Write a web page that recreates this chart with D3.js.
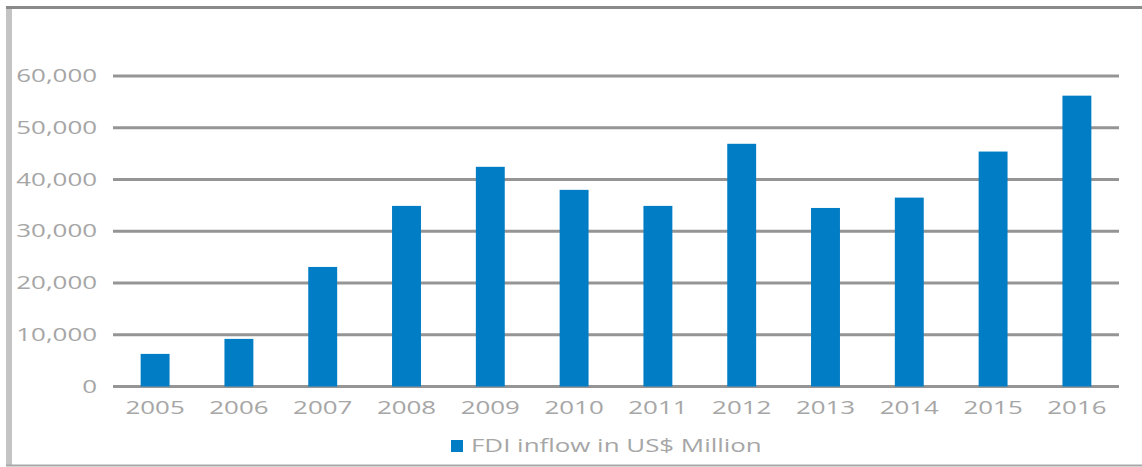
<!DOCTYPE html>
<html>
<head>
<meta charset="utf-8">
<script src="https://cdn.jsdelivr.net/npm/d3@7"></script>
<style>
  body { margin: 0; background: #fff; }
  text { font-family: "Open Sans", "DejaVu Sans", sans-serif; fill: #a6a6a6; }
</style>
</head>
<body>
<div id="chart"></div>
<script>
// chart data
const years = ["2005", "2006", "2007", "2008", "2009", "2010", "2011", "2012", "2013", "2014", "2015", "2016"];
const fdiValues = [6300, 9200, 23100, 34900, 42450, 38000, 34900, 46900, 34500, 36500, 45400, 56200];
const yTicks = [0, 10000, 20000, 30000, 40000, 50000, 60000];
const seriesName = "FDI inflow in US$ Million";

const W = 1142, H = 467;
const plot = {left: 113, right: 1119, zero: 386.5, top: 76};
const stretch = 1.48; // text in the picture is wider than normal

const svg = d3.select("#chart")
  .append("svg")
    .attr("width", W)
    .attr("height", H);

// frame
svg.append("rect")
  .attr("x", 6).attr("y", 7).attr("width", 6).attr("height", 458)
  .attr("fill", "#c4c4c4");
svg.append("line")
  .attr("x1", 6).attr("x2", W).attr("y1", 7.5).attr("y2", 7.5)
  .attr("stroke", "#8a8a8a").attr("stroke-width", 3);
svg.append("line")
  .attr("x1", 6).attr("x2", W).attr("y1", 465.5).attr("y2", 465.5)
  .attr("stroke", "#a8a8a8").attr("stroke-width", 2);

// scales
const x = d3.scaleBand()
  .domain(years)
  .range([plot.left, plot.right])
  .paddingInner(0.655)
  .paddingOuter(0.33);

const y = d3.scaleLinear()
  .domain([0, 60000])
  .range([plot.zero, plot.top]);

// gridlines
svg.append("g")
  .selectAll("line")
  .data(yTicks)
  .join("line")
    .attr("x1", plot.left).attr("x2", plot.right)
    .attr("y1", d => y(d)).attr("y2", d => y(d))
    .attr("stroke", "#959595")
    .attr("stroke-width", 3);

// y labels
svg.append("g")
  .selectAll("text")
  .data(yTicks)
  .join("text")
    .attr("transform", d => `translate(97,${y(d)}) scale(${stretch},1)`)
    .attr("text-anchor", "end")
    .attr("dy", "0.35em")
    .style("font-size", "17.5px")
    .text(d => d3.format(",")(d));

// bars
svg.append("g")
  .selectAll("rect")
  .data(fdiValues)
  .join("rect")
    .attr("x", (d, i) => x(years[i]))
    .attr("y", d => y(d))
    .attr("width", x.bandwidth())
    .attr("height", d => y(0) - y(d))
    .attr("fill", "#007dc5");

// x labels
svg.append("g")
  .selectAll("text")
  .data(years)
  .join("text")
    .attr("transform", d => `translate(${x(d) + x.bandwidth() / 2},408) scale(${stretch},1)`)
    .attr("text-anchor", "middle")
    .attr("dy", "0.35em")
    .style("font-size", "17.5px")
    .text(d => d);

// legend
const legend = svg.append("g");
legend.append("rect")
  .attr("x", 451).attr("y", 440).attr("width", 12).attr("height", 12)
  .attr("fill", "#007dc5");
legend.append("text")
  .attr("transform", `translate(471,446) scale(${stretch},1)`)
  .attr("dy", "0.35em")
  .style("font-size", "17.5px")
  .text(seriesName);
</script>
</body>
</html>
